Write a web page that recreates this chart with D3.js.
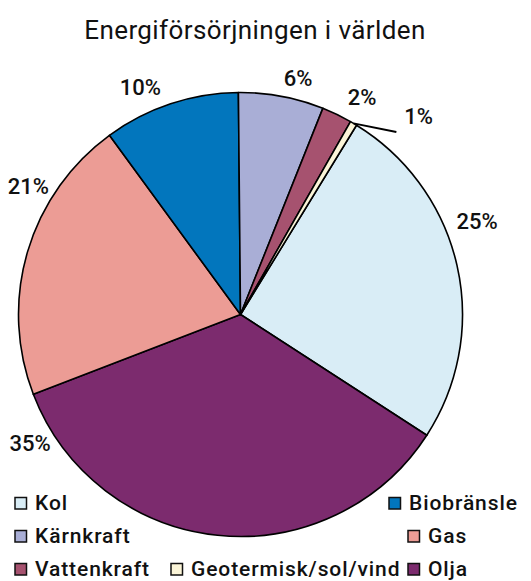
<!DOCTYPE html>
<html>
<head>
<meta charset="utf-8">
<script src="https://cdn.jsdelivr.net/npm/d3@7"></script>
<style>
  body { margin: 0; background: #fff; }
  text { font-family: Roboto, "Noto Sans", sans-serif; font-weight: 500; fill: #111; }
</style>
</head>
<body>
<div id="chart"></div>
<script>
// Energy sources, in clockwise order starting with Kol
var categories = ["Kol", "Olja", "Gas", "Biobränsle", "Kärnkraft", "Vattenkraft", "Geotermisk/sol/vind"];
var shares = [25.4, 35.0, 20.8, 9.9, 6.2, 2.2, 0.5];
var colors = ["#d9edf6", "#7c2b6e", "#ec9c95", "#0276bd", "#a9aed6", "#a6526f", "#fbf5d8"];

// legend rows as shown below the pie
var legendRows = [
    ["Kol", null, "Biobränsle"],
    ["Kärnkraft", null, "Gas"],
    ["Vattenkraft", "Geotermisk/sol/vind", "Olja"]
];

var width = 531, height = 581;
var cx = 240.5, cy = 314.5, radius = 222;

// labels were hand placed in the original, kept as angle (deg) / distance from centre
var labelPlace = {
    "Kol": [68.6, 254],
    "Olja": [238.4, 247],
    "Gas": [301.2, 248],
    "Biobränsle": [336.2, 248],
    "Kärnkraft": [13.7, 243],
    "Vattenkraft": [29.2, 249],
    "Geotermisk/sol/vind": [42.0, 266]
};

var data = categories.map(function(c, i) { return {name: c, value: shares[i]}; });
var colorOf = d3.scaleOrdinal().domain(categories).range(colors);

var svg = d3.select("#chart").append("svg")
    .attr("width", width)
    .attr("height", height);

svg.append("text")
    .attr("x", 255)
    .attr("y", 39)
    .attr("text-anchor", "middle")
    .style("font-size", "26px")
    .style("font-weight", 400)
    .style("letter-spacing", "0.4px")
    .text("Energiförsörjningen i världen");

var startDeg = 31.5;
var pie = d3.pie()
    .sort(null)
    .value(function(d) { return d.value; })
    .startAngle(startDeg * Math.PI / 180)
    .endAngle(startDeg * Math.PI / 180 + 2 * Math.PI);

var arc = d3.arc().innerRadius(0).outerRadius(radius);
var arcs = pie(data);

var g = svg.append("g").attr("transform", "translate(" + cx + "," + cy + ")");

g.selectAll("path")
    .data(arcs)
    .enter().append("path")
    .attr("d", arc)
    .attr("fill", function(d) { return colorOf(d.data.name); })
    .attr("stroke", "#000")
    .attr("stroke-width", 1.6)
    .attr("stroke-linejoin", "round");

function polar(deg, r) {
    var a = deg * Math.PI / 180;
    return [r * Math.sin(a), -r * Math.cos(a)];
}

// leader line for the thin slice
var thin = arcs[arcs.length - 1];
var mid = (thin.startAngle + thin.endAngle) / 2 * 180 / Math.PI;
var p0 = polar(mid, radius);
var p1 = polar(labelPlace[thin.data.name][0] - 1.5, labelPlace[thin.data.name][1] - 26);
g.append("line")
    .attr("x1", p0[0]).attr("y1", p0[1])
    .attr("x2", p1[0]).attr("y2", p1[1])
    .attr("stroke", "#000")
    .attr("stroke-width", 1.8);

g.selectAll(".pct")
    .data(arcs)
    .enter().append("text")
    .attr("class", "pct")
    .attr("text-anchor", "middle")
    .attr("dominant-baseline", "central")
    .attr("transform", function(d) {
        var p = labelPlace[d.data.name];
        var xy = polar(p[0], p[1]);
        return "translate(" + xy[0] + "," + xy[1] + ")";
    })
    .style("font-size", "22px")
    .text(function(d) { return Math.round(d.data.value) + "%"; });

// legend
var colX = [15, 171, 408];
var rowY = [503, 536, 569];
legendRows.forEach(function(row, ri) {
    row.forEach(function(name, ci) {
        if (!name) return;
        var x = colX[ci];
        if (name === "Biobränsle") x = 389;
        var item = svg.append("g").attr("transform", "translate(" + x + "," + rowY[ri] + ")");
        item.append("rect")
            .attr("x", 0).attr("y", -5.5)
            .attr("width", 11.5).attr("height", 11.5)
            .attr("fill", colorOf(name))
            .attr("stroke", "#111")
            .attr("stroke-width", 1.5);
        item.append("text")
            .attr("x", 20)
            .attr("y", 0)
            .attr("dominant-baseline", "central")
            .style("font-size", "21px")
            .style("letter-spacing", "0.9px")
            .text(name);
    });
});
</script>
</body>
</html>
